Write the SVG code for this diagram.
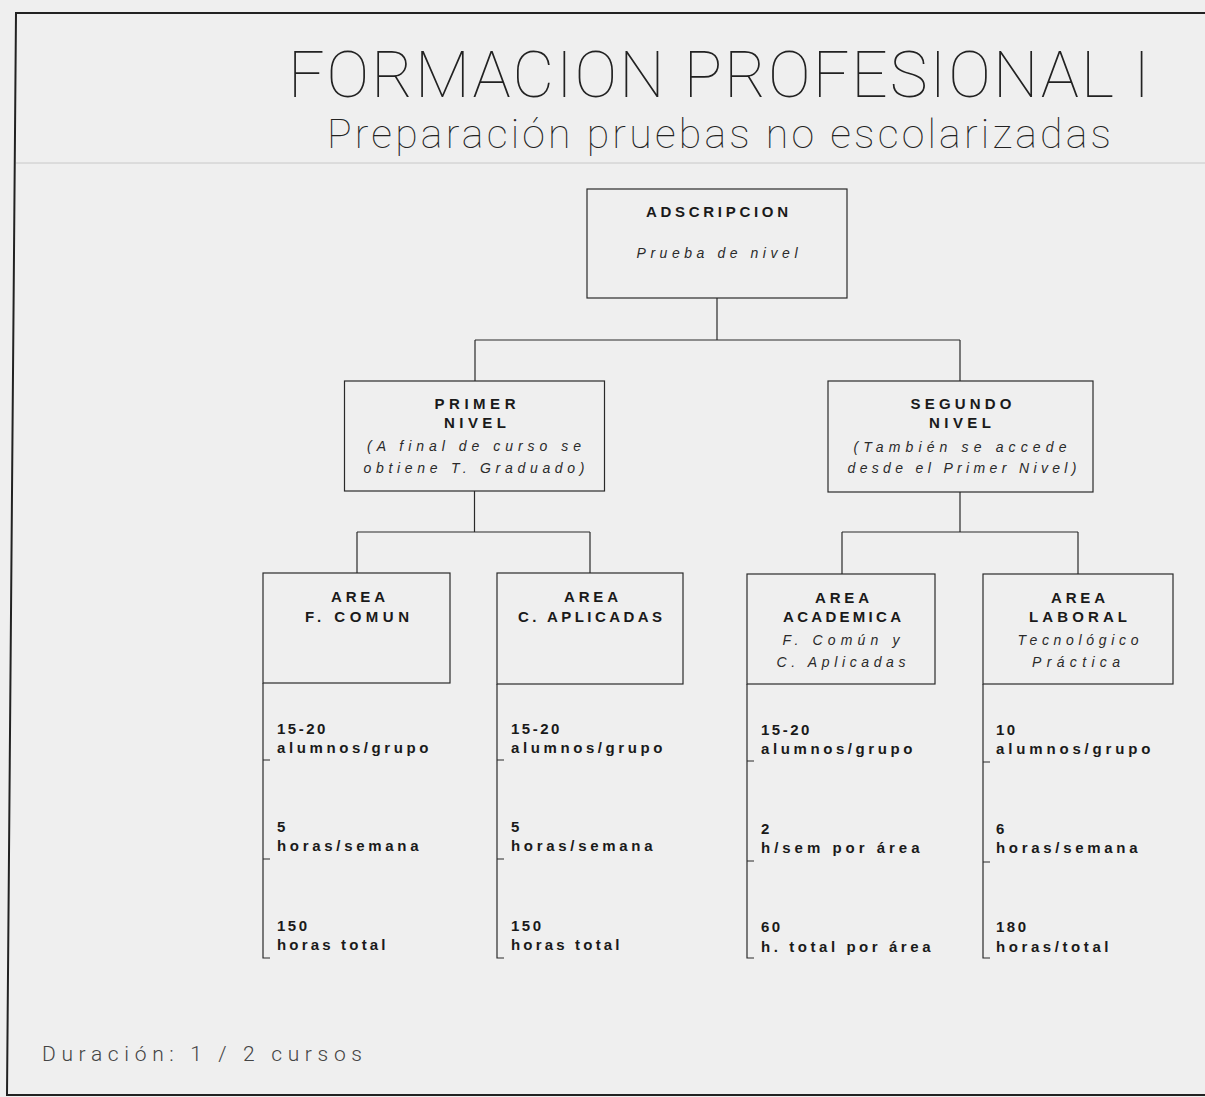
<svg xmlns="http://www.w3.org/2000/svg" width="1205" height="1097" viewBox="0 0 1205 1097">
<style>
.box{fill:none;stroke:#2a2a2a;stroke-width:1.2}
.ln{fill:none;stroke:#2a2a2a;stroke-width:1.2}
.hd{font-family:"Liberation Sans",Arial,sans-serif;font-weight:bold;font-size:15px;fill:#1a1a1a;text-anchor:middle}
.it{font-family:"Liberation Sans",Arial,sans-serif;font-style:italic;font-size:14px;fill:#2a2a2a;text-anchor:middle}
.dt{font-family:"Liberation Sans",Arial,sans-serif;font-weight:bold;font-size:15px;fill:#1a1a1a;letter-spacing:2.5px}
.thin{font-family:Roboto,"Liberation Sans",sans-serif;font-weight:100;fill:#222}
.light{font-family:Roboto,"Liberation Sans",sans-serif;font-weight:300;fill:#444}
</style>
<rect x="0" y="0" width="1205" height="1097" fill="#efefef"/>
<g id="frame">
<path d="M1205,13 H16 L7,1095 H1205" fill="none" stroke="#222" stroke-width="2"/>
<line x1="16" y1="163" x2="1205" y2="163" stroke="#c8c8c8" stroke-width="1"/>
</g>
<g id="title">
<text class="thin" x="288" y="97" font-size="64" textLength="862" lengthAdjust="spacing">FORMACION PROFESIONAL I</text>
<text class="thin" x="327" y="148" font-size="41" textLength="784" lengthAdjust="spacing">Preparación pruebas no escolarizadas</text>
</g>
<g id="connectors">
<path class="ln" d="M717,298 V340 M475,340 H960 M475,340 V381 M960,340 V381"/>
<path class="ln" d="M474.5,491 V532 M357,532 H590 M357,532 V573 M590,532 V573"/>
<path class="ln" d="M960,492 V532 M842,532 H1078 M842,532 V574 M1078,532 V574"/>
</g>
<g id="adscripcion">
<rect class="box" x="587" y="189" width="260" height="109"/>
<text class="hd" x="717" y="217" textLength="142" lengthAdjust="spacing">ADSCRIPCION</text>
<text class="it" x="717" y="258" textLength="161" lengthAdjust="spacing">Prueba de nivel</text>
</g>
<g id="primer-nivel">
<rect class="box" x="344.5" y="381" width="260" height="110"/>
<text class="hd" x="475" y="409" textLength="81" lengthAdjust="spacing">PRIMER</text>
<text class="hd" x="475" y="428" textLength="62" lengthAdjust="spacing">NIVEL</text>
<text class="it" x="474" y="451" textLength="214" lengthAdjust="spacing">(A final de curso se</text>
<text class="it" x="474" y="473" textLength="221" lengthAdjust="spacing">obtiene T. Graduado)</text>
</g>
<g id="segundo-nivel">
<rect class="box" x="828" y="381" width="265" height="111"/>
<text class="hd" x="961" y="409" textLength="101" lengthAdjust="spacing">SEGUNDO</text>
<text class="hd" x="960" y="428" textLength="62" lengthAdjust="spacing">NIVEL</text>
<text class="it" x="960" y="452" textLength="213" lengthAdjust="spacing">(También se accede</text>
<text class="it" x="962" y="473" textLength="229" lengthAdjust="spacing">desde el Primer Nivel)</text>
</g>
<g id="area-f-comun">
<rect class="box" x="263" y="573" width="187" height="110"/>
<text class="hd" x="358" y="602" textLength="54" lengthAdjust="spacing">AREA</text>
<text class="hd" x="357" y="622" textLength="104" lengthAdjust="spacing">F. COMUN</text>
<path class="ln" d="M263,683 V958 H270 M263,760 H270 M263,859 H270"/>
<text class="dt" x="277" y="734">15-20</text>
<text class="dt" x="277" y="753" textLength="154" lengthAdjust="spacing">alumnos/grupo</text>
<text class="dt" x="277" y="832">5</text>
<text class="dt" x="277" y="851" textLength="144" lengthAdjust="spacing">horas/semana</text>
<text class="dt" x="277" y="931">150</text>
<text class="dt" x="277" y="950" textLength="111" lengthAdjust="spacing">horas total</text>
</g>
<g id="area-c-aplicadas">
<rect class="box" x="497" y="573" width="186" height="111"/>
<text class="hd" x="591" y="602" textLength="54" lengthAdjust="spacing">AREA</text>
<text class="hd" x="590" y="622" textLength="144" lengthAdjust="spacing">C. APLICADAS</text>
<path class="ln" d="M497,684 V958 H504 M497,760 H504 M497,859 H504"/>
<text class="dt" x="511" y="734">15-20</text>
<text class="dt" x="511" y="753" textLength="154" lengthAdjust="spacing">alumnos/grupo</text>
<text class="dt" x="511" y="832">5</text>
<text class="dt" x="511" y="851" textLength="144" lengthAdjust="spacing">horas/semana</text>
<text class="dt" x="511" y="931">150</text>
<text class="dt" x="511" y="950" textLength="111" lengthAdjust="spacing">horas total</text>
</g>
<g id="area-academica">
<rect class="box" x="747" y="574" width="188" height="110"/>
<text class="hd" x="842" y="603" textLength="54" lengthAdjust="spacing">AREA</text>
<text class="hd" x="842" y="622" textLength="118" lengthAdjust="spacing">ACADEMICA</text>
<text class="it" x="841" y="645" textLength="117" lengthAdjust="spacing">F. Común y</text>
<text class="it" x="841" y="667" textLength="129" lengthAdjust="spacing">C. Aplicadas</text>
<path class="ln" d="M747,684 V958 H754 M747,761 H754 M747,861 H754"/>
<text class="dt" x="761" y="735">15-20</text>
<text class="dt" x="761" y="754" textLength="154" lengthAdjust="spacing">alumnos/grupo</text>
<text class="dt" x="761" y="834">2</text>
<text class="dt" x="761" y="853" textLength="161" lengthAdjust="spacing">h/sem por área</text>
<text class="dt" x="761" y="932">60</text>
<text class="dt" x="761" y="952" textLength="172" lengthAdjust="spacing">h. total por área</text>
</g>
<g id="area-laboral">
<rect class="box" x="983" y="574" width="190" height="110"/>
<text class="hd" x="1078" y="603" textLength="54" lengthAdjust="spacing">AREA</text>
<text class="hd" x="1078" y="622" textLength="98" lengthAdjust="spacing">LABORAL</text>
<text class="it" x="1078" y="645" textLength="121" lengthAdjust="spacing">Tecnológico</text>
<text class="it" x="1076" y="667" textLength="88" lengthAdjust="spacing">Práctica</text>
<path class="ln" d="M983,684 V958 H990 M983,762 H990 M983,862 H990"/>
<text class="dt" x="996" y="735">10</text>
<text class="dt" x="996" y="754" textLength="157" lengthAdjust="spacing">alumnos/grupo</text>
<text class="dt" x="996" y="834">6</text>
<text class="dt" x="996" y="853" textLength="144" lengthAdjust="spacing">horas/semana</text>
<text class="dt" x="996" y="932">180</text>
<text class="dt" x="996" y="952" textLength="115" lengthAdjust="spacing">horas/total</text>
</g>
<g id="duracion">
<text class="light" x="42" y="1061" font-size="21" textLength="320" lengthAdjust="spacing">Duración: 1 / 2 cursos</text>
</g>
</svg>
